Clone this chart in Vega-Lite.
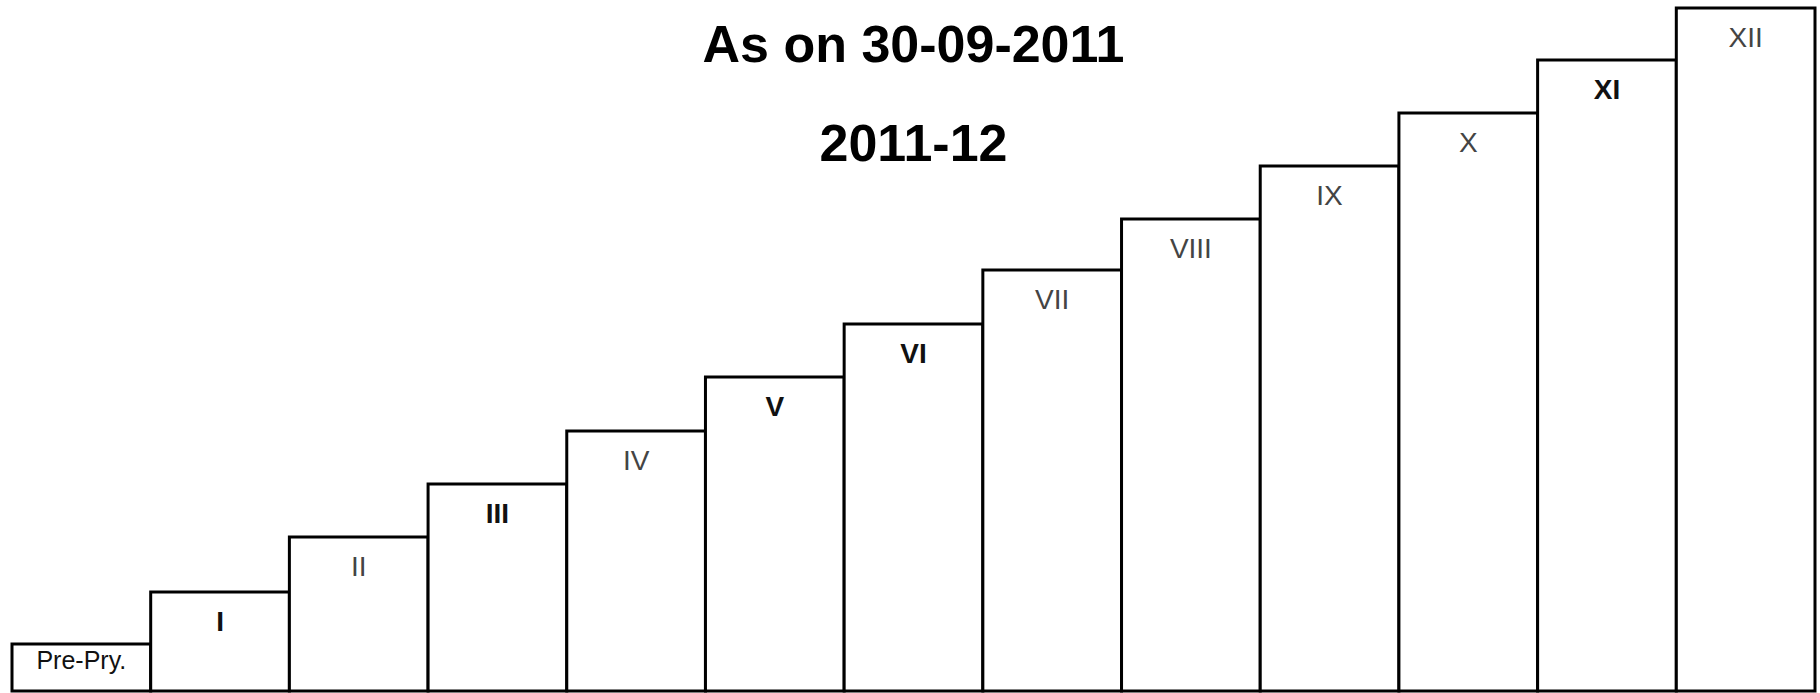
{
  "$schema": "https://vega.github.io/schema/vega-lite/v6.json",
  "width": 1803,
  "height": 691,
  "autosize": {"type": "none"},
  "padding": {"left": 12, "top": 0, "right": 5, "bottom": 2},
  "background": "white",
  "config": {"view": {"stroke": null}},
  "title": {
    "text": "As on 30-09-2011",
    "subtitle": "2011-12",
    "font": "Liberation Sans",
    "subtitleFont": "Liberation Sans",
    "fontSize": 52,
    "subtitleFontSize": 52,
    "fontWeight": "bold",
    "subtitleFontWeight": "bold",
    "color": "#000000",
    "subtitleColor": "#000000",
    "anchor": "middle",
    "offset": -172,
    "subtitlePadding": 47
  },
  "data": {
    "values": [
      {"grade": "Pre-Pry.", "level": 47},
      {"grade": "I", "level": 99},
      {"grade": "II", "level": 154},
      {"grade": "III", "level": 207},
      {"grade": "IV", "level": 260},
      {"grade": "V", "level": 314},
      {"grade": "VI", "level": 367},
      {"grade": "VII", "level": 421},
      {"grade": "VIII", "level": 472},
      {"grade": "IX", "level": 525},
      {"grade": "X", "level": 578},
      {"grade": "XI", "level": 631},
      {"grade": "XII", "level": 683}
    ]
  },
  "encoding": {
    "x": {"field": "grade", "type": "nominal", "sort": null, "axis": null,
          "scale": {"paddingInner": 0, "paddingOuter": 0}},
    "y": {"field": "level", "type": "quantitative", "axis": null,
          "scale": {"domain": [0, 691], "nice": false, "zero": true}}
  },
  "layer": [
    {
      "mark": {"type": "bar", "fill": "white", "stroke": "black", "strokeWidth": 3}
    },
    {
      "transform": [{"filter": {"field": "grade", "oneOf": ["I", "III", "V", "VI", "XI"]}}],
      "mark": {"type": "text", "font": "Liberation Sans", "fontSize": 28, "fontWeight": "bold",
               "baseline": "alphabetic", "dy": 39, "color": "#111111"},
      "encoding": {"text": {"field": "grade"}}
    },
    {
      "transform": [{"filter": {"field": "grade", "oneOf": ["II", "IV", "VII", "VIII", "IX", "X", "XII"]}}],
      "mark": {"type": "text", "font": "Liberation Sans", "fontSize": 28, "fontWeight": "normal",
               "baseline": "alphabetic", "dy": 39, "color": "#444444"},
      "encoding": {"text": {"field": "grade"}}
    },
    {
      "transform": [{"filter": {"field": "grade", "equal": "Pre-Pry."}}],
      "mark": {"type": "text", "font": "Liberation Sans", "fontSize": 25, "fontWeight": "normal",
               "baseline": "alphabetic", "dy": 25, "color": "#111111"},
      "encoding": {"text": {"field": "grade"}}
    }
  ]
}
